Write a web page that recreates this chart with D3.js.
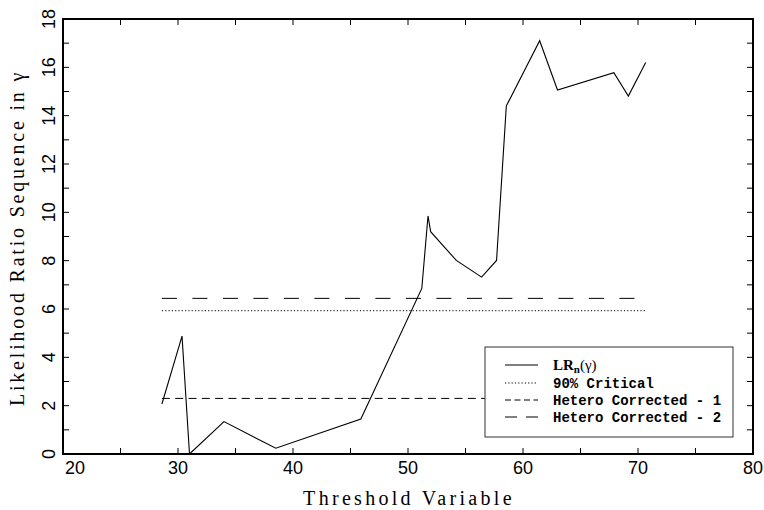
<!DOCTYPE html>
<html>
<head>
<meta charset="utf-8">
<script src="https://cdn.jsdelivr.net/npm/d3@7"></script>
<style>
  body { margin: 0; background: #fff; }
  svg { display: block; }
  .tick-label { font-family: "Liberation Sans", Arial, sans-serif; font-size: 18px; fill: #000; }
  .axis-title { font-family: "Liberation Serif", "DejaVu Serif", serif; font-size: 20px; fill: #000; }
  .legend-text { font-family: "Liberation Mono", "DejaVu Sans Mono", monospace; font-size: 14px; font-weight: bold; fill: #000; }
</style>
</head>
<body>
<svg id="chart" width="764" height="510"></svg>
<script>
// threshold values (x) and LR_n(gamma) sequence (y)
const thresholds = [28.6, 30.35, 31.0, 34.0, 38.5, 45.9, 51.2, 51.74, 51.97, 54.2, 56.4, 57.7, 58.55, 61.45, 63.0, 67.9, 69.16, 70.67];
const lrValues   = [2.07, 4.88, 0.0, 1.34, 0.24, 1.45, 6.85, 9.85, 9.2, 8.01, 7.32, 8.01, 14.4, 17.1, 15.06, 15.78, 14.81, 16.2];

// horizontal reference levels
const criticalNames = ['90% Critical', 'Hetero Corrected - 1', 'Hetero Corrected - 2'];
const criticalValues = [5.93, 2.30, 6.44];
const criticalDash = ['1.2,2.1', '8,5.3', '15,15.5'];

const xTicks = [20, 30, 40, 50, 60, 70, 80];
const yTicks = [0, 2, 4, 6, 8, 10, 12, 14, 16, 18];

const margin = { left: 63, right: 11, top: 19, bottom: 56 };
const W = 764, H = 510;

const svg = d3.select('#chart');

const x = d3.scaleLinear().domain([20, 80]).range([margin.left, W - margin.right]);
const y = d3.scaleLinear().domain([0, 18]).range([H - margin.bottom, margin.top]);

const x0 = x.range()[0], x1 = x.range()[1];
const y0 = y.range()[0], y1 = y.range()[1];

// inward ticks on all four sides
const tickG = svg.append('g').attr('stroke', '#000').attr('stroke-width', 1);
d3.range(20, 81, 5).forEach(v => {
  tickG.append('line').attr('x1', x(v)).attr('x2', x(v)).attr('y1', y0).attr('y2', y0 - 6);
  tickG.append('line').attr('x1', x(v)).attr('x2', x(v)).attr('y1', y1).attr('y2', y1 + 6);
});
d3.range(0, 19, 1).forEach(v => {
  tickG.append('line').attr('x1', x0).attr('x2', x0 + 6).attr('y1', y(v)).attr('y2', y(v));
  tickG.append('line').attr('x1', x1).attr('x2', x1 - 6).attr('y1', y(v)).attr('y2', y(v));
});

// frame
svg.append('rect')
  .attr('x', x0).attr('y', y1)
  .attr('width', x1 - x0).attr('height', y0 - y1)
  .attr('fill', 'none')
  .attr('stroke', '#000')
  .attr('stroke-width', 2);

// x tick labels (first one nudged clear of the y axis)
svg.selectAll('text.xlab')
  .data(xTicks)
  .join('text')
  .attr('class', 'tick-label xlab')
  .attr('x', (d, i) => x(d) + (i === 0 ? 12 : 0))
  .attr('y', y0 + 20)
  .attr('text-anchor', 'middle')
  .text(d => d);

// y tick labels, rotated
svg.selectAll('text.ylab')
  .data(yTicks)
  .join('text')
  .attr('class', 'tick-label ylab')
  .attr('transform', d => `translate(${x0 - 8},${y(d)}) rotate(-90)`)
  .attr('text-anchor', 'middle')
  .text(d => d);

// axis titles
svg.append('text')
  .attr('class', 'axis-title')
  .attr('x', 409)
  .attr('y', 505)
  .attr('text-anchor', 'middle')
  .style('letter-spacing', '3.3px')
  .text('Threshold Variable');

svg.append('text')
  .attr('class', 'axis-title')
  .attr('transform', `translate(24,238) rotate(-90)`)
  .attr('text-anchor', 'middle')
  .style('letter-spacing', '2.8px')
  .text('Likelihood Ratio Sequence in \u03B3');

// critical value lines across the threshold range
const xMin = d3.min(thresholds), xMax = d3.max(thresholds);
svg.selectAll('line.crit')
  .data(criticalValues)
  .join('line')
  .attr('class', 'crit')
  .attr('x1', x(xMin)).attr('x2', x(xMax))
  .attr('y1', d => y(d)).attr('y2', d => y(d))
  .attr('stroke', '#000')
  .attr('stroke-width', 1)
  .attr('stroke-dasharray', (d, i) => criticalDash[i]);

// LR sequence
const line = d3.line().x(d => x(d[0])).y(d => y(d[1]));
svg.append('path')
  .datum(thresholds.map((t, i) => [t, lrValues[i]]))
  .attr('d', line)
  .attr('fill', 'none')
  .attr('stroke', '#000')
  .attr('stroke-width', 1.1);

// legend
const legend = svg.append('g').attr('transform', 'translate(485,347)');
legend.append('rect')
  .attr('width', 248).attr('height', 90)
  .attr('fill', '#fff')
  .attr('stroke', '#333')
  .attr('stroke-width', 1);

const legendDash = [null, '1.2,2.1', '6,3.5', '12,9'];
const rowY = [18, 36, 53, 70];
legendDash.forEach((dash, i) => {
  legend.append('line')
    .attr('x1', 20).attr('x2', 53)
    .attr('y1', rowY[i]).attr('y2', rowY[i])
    .attr('stroke', '#000')
    .attr('stroke-width', 1)
    .attr('stroke-dasharray', dash);
});

const lrLabel = legend.append('text')
  .attr('class', 'legend-text')
  .attr('x', 68).attr('y', rowY[0] + 5)
  .style('font-family', '"Liberation Serif", serif')
  .style('font-size', '15px');
lrLabel.append('tspan').text('LR');
lrLabel.append('tspan').attr('dy', 3).style('font-size', '11px').text('n');
lrLabel.append('tspan').attr('dy', -3).style('font-weight', 'normal').text('(\u03B3)');

criticalNames.forEach((name, i) => {
  legend.append('text')
    .attr('class', 'legend-text')
    .attr('x', 68).attr('y', rowY[i + 1] + 5)
    .text(name);
});
</script>
</body>
</html>
